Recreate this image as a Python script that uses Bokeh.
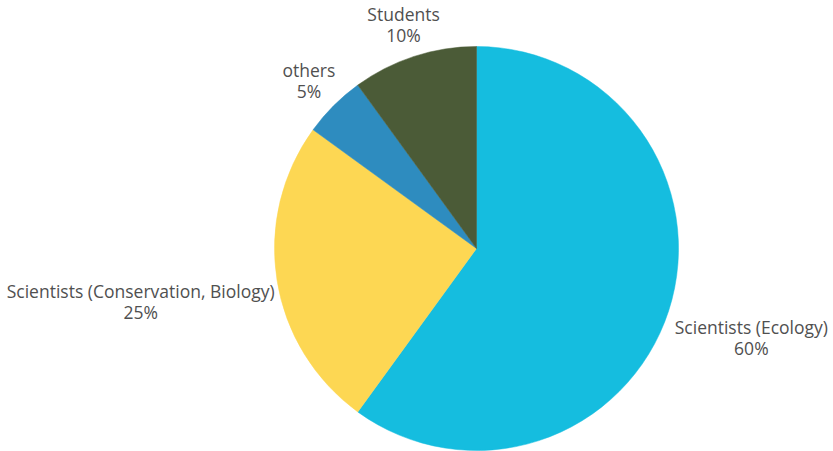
import math
from bokeh.plotting import figure
from bokeh.models import Range1d, ColumnDataSource
from bokeh.core.properties import value
from bokeh.embed import file_html
from bokeh.resources import INLINE

# ---- data ----
categories = ["Scientists (Ecology)", "Scientists (Conservation, Biology)", "others", "Students"]
shares = [60, 25, 5, 10]
pct_labels = ["60%", "25%", "5%", "10%"]
colors = ["#15BDDF", "#FDD753", "#2E8CBF", "#4B5B37"]

# ---- layout ----
W, H = 833, 451
CX, CY = 476, 203
R = 202
label_dist = [289, 340, 237, 236]
LINE_GAP = 10.5

total = float(sum(shares))
starts, ends, mids = [], [], []
cum = 0.0
for s in shares:
    a0 = math.pi / 2 - 2 * math.pi * cum / total
    cum += s
    a1 = math.pi / 2 - 2 * math.pi * cum / total
    starts.append(a0)
    ends.append(a1)
    mids.append((a0 + a1) / 2)

src = ColumnDataSource(dict(start=starts, end=ends, color=colors))

p = figure(width=W, height=H, output_backend="svg", toolbar_location=None,
           x_range=Range1d(0, W), y_range=Range1d(0, H), min_border=0)
p.axis.visible = False
p.grid.visible = False
p.outline_line_color = None
p.background_fill_color = "white"
p.border_fill_color = "white"

p.wedge(x=CX, y=CY, radius=R, start_angle="start", end_angle="end",
        direction="clock", fill_color="color", line_color="color",
        line_width=0.5, source=src)

lx = [CX + d * math.cos(m) for d, m in zip(label_dist, mids)]
ly = [CY + d * math.sin(m) for d, m in zip(label_dist, mids)]

name_src = ColumnDataSource(dict(x=lx, y=[v + LINE_GAP for v in ly], t=categories))
pct_src = ColumnDataSource(dict(x=lx, y=[v - LINE_GAP for v in ly], t=pct_labels))
for s in (name_src, pct_src):
    p.text(x="x", y="y", text="t", source=s, text_align="center",
           text_baseline="middle", text_font=value("Open Sans"),
           text_font_size="17.5px", text_color="#505050")

open("out.html", "w").write(file_html(p, INLINE))
